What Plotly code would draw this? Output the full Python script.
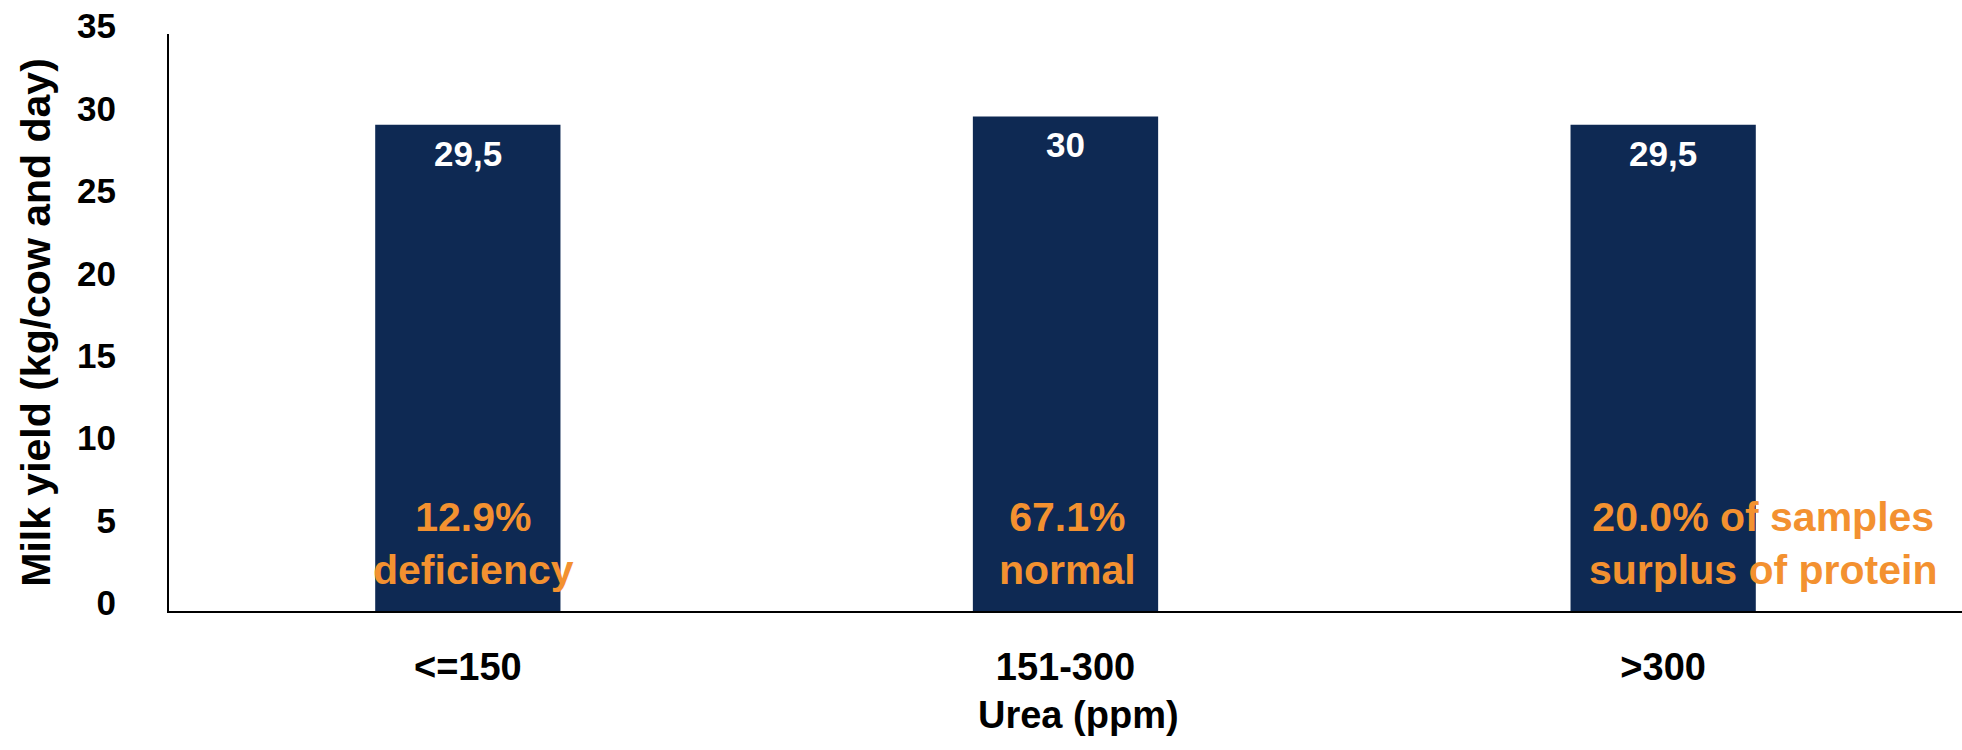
import plotly.graph_objects as go

# Urea classes and mean milk yield per class
urea_classes = ["<=150", "151-300", ">300"]
milk_yield = [29.5, 30.0, 29.5]

# Share of samples in each class and its interpretation
sample_share = ["12.9%", "67.1%", "20.0% of samples"]
share_meaning = ["deficiency", "normal", "surplus of protein"]
note_xshift = [6, 2, 100]

y_ticks = [0, 5, 10, 15, 20, 25, 30, 35]

NAVY = "#0E2953"
ORANGE = "#F39130"
FONT = "Liberation Sans, Arial, sans-serif"

bar_labels = [f"{v:g}".replace(".", ",") for v in milk_yield]

fig = go.Figure(
    go.Bar(
        x=urea_classes,
        y=milk_yield,
        width=0.31,
        marker=dict(color=NAVY, line=dict(width=0)),
        hoverinfo="skip",
    )
)

# value labels just inside the top of each bar
for cat, v, lab in zip(urea_classes, milk_yield, bar_labels):
    fig.add_annotation(
        x=cat, y=v, xref="x", yref="y",
        text=lab, showarrow=False,
        xanchor="center", yanchor="top", yshift=-7,
        font=dict(family=FONT, size=35, color="white", weight="bold"),
    )

for cat, share, meaning, dx in zip(urea_classes, sample_share, share_meaning, note_xshift):
    fig.add_annotation(
        x=cat, y=4.1, xref="x", yref="y",
        text=f"{share}<br>{meaning}",
        showarrow=False, align="center",
        xanchor="center", yanchor="middle", xshift=dx,
        font=dict(family=FONT, size=41, color=ORANGE, weight="bold"),
    )

# x-axis title placed below the tick labels
fig.add_annotation(
    x=0.507, y=-0.18, xref="paper", yref="paper",
    text="Urea (ppm)", showarrow=False,
    xanchor="center", yanchor="middle",
    font=dict(family=FONT, size=38, color="black", weight="bold"),
)

fig.update_layout(
    width=1962, height=750,
    margin=dict(l=169, r=0, t=34, b=139),
    paper_bgcolor="white", plot_bgcolor="white",
    showlegend=False,
)

fig.update_xaxes(
    showline=True, linecolor="black", linewidth=2,
    showgrid=False, zeroline=False, ticks="",
    tickfont=dict(family=FONT, size=38, color="black", weight="bold"),
    ticklabelstandoff=21,
)

fig.update_yaxes(
    range=[0, 35], tickvals=y_ticks,
    showline=True, linecolor="black", linewidth=2,
    showgrid=False, zeroline=False, ticks="",
    tickfont=dict(family=FONT, size=35, color="black", weight="bold"),
    ticklabelstandoff=44, ticklabelshift=-8,
    title=dict(text="Milk yield (kg/cow and day)", standoff=14,
               font=dict(family=FONT, size=41, color="black", weight="bold")),
)

fig.write_html("out.html")
